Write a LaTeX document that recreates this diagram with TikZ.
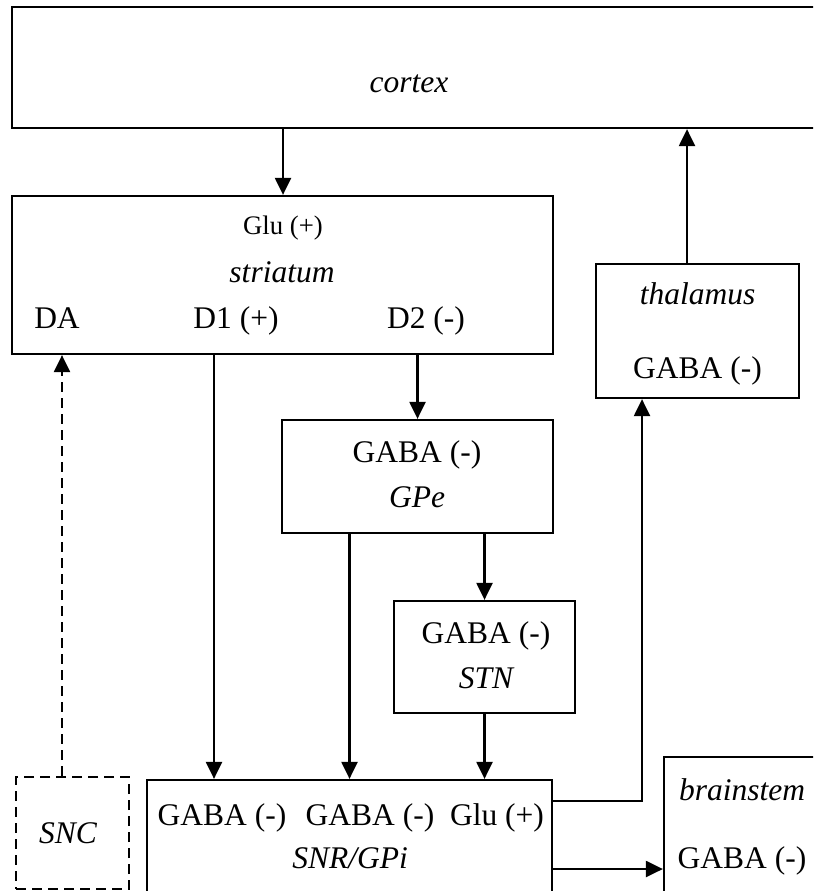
\documentclass[tikz,border=0pt]{standalone}
\usepackage{fontspec}
\setmainfont{Liberation Serif}
\usetikzlibrary{arrows.meta}

\begin{document}
\begin{tikzpicture}[
    x=0.4pt, y=-0.4pt,
    line width=0.9pt,
    >={Triangle[length=6.8pt,width=6.4pt]},
    box/.style={rectangle, draw, line width=0.9pt, inner sep=0pt},
    dashbox/.style={box, dash pattern=on 4pt off 2.4pt},
    txt/.style={anchor=base, inner sep=0pt, font=\fontsize{12.6}{15}\selectfont},
    smalltxt/.style={txt, font=\fontsize{10.7}{13}\selectfont},
    itxt/.style={txt, font=\fontsize{12.6}{15}\selectfont\itshape}
]
    \clip (0,0) rectangle (813,891);

    % Regionen
    \node[box, minimum width=327.2pt, minimum height=48.4pt] (cortex) at (421,67.5) {};
    \node[box, minimum width=216.4pt, minimum height=63.2pt] (striatum) at (282.5,275) {};
    \node[box, minimum width=81.2pt, minimum height=53.6pt] (thalamus) at (697.5,331) {};
    \node[box, minimum width=108.4pt, minimum height=45.2pt] (gpe) at (417.5,476.5) {};
    \node[box, minimum width=72.4pt, minimum height=44.8pt] (stn) at (484.5,657) {};
    \node[box, minimum width=162pt, minimum height=52pt] (snr) at (349.5,845) {};
    \node[box, minimum width=66.4pt, minimum height=61.2pt] (brainstem) at (747,833.5) {};
    \node[dashbox, minimum width=45.2pt, minimum height=44.8pt] (snc) at (72.5,833) {};

    % Beschriftungen
    \node[itxt] (cortexname) at (409,93) {cortex};
    \node[smalltxt] (glu) at (283,235) {Glu (+)};
    \node[itxt] (striatumname) at (282,283) {striatum};
    \node[txt] (da) at (57,328) {DA};
    \node[txt] (d1) at (236,328) {D1 (+)};
    \node[txt] (d2) at (426,328) {D2 (-)};
    \node[itxt] (thalamusname) at (697.5,305) {thalamus};
    \node[txt] (thalamusgaba) at (697.5,379) {GABA (-)};
    \node[txt] (gpegaba) at (417,462) {GABA (-)};
    \node[itxt] (gpename) at (417,507) {GPe};
    \node[txt] (stngaba) at (486,643) {GABA (-)};
    \node[itxt] (stnname) at (486,688) {STN};
    \node[txt] (gabaA) at (222,825) {GABA (-)};
    \node[txt] (gabaB) at (370,825) {GABA (-)};
    \node[txt] (snrglu) at (497,825) {Glu (+)};
    \node[itxt] (snrname) at (350,868) {SNR/GPi};
    \node[itxt] (brainstemname) at (742,800) {brainstem};
    \node[txt] (brainstemgaba) at (742,868) {GABA (-)};
    \node[itxt] (sncname) at (68,843) {SNC};

    % Verbindungen
    \coordinate (bsin) at ([yshift=-14.2pt]brainstem.west);
    \coordinate (sncout) at ([xshift=-4.2pt]snc.north);
    \coordinate (thalout) at ([xshift=-4.2pt]thalamus.north);
    \coordinate (thalin) at ([xshift=-22.2pt]thalamus.south);
    \coordinate (d1out) at ([xshift=-8.8pt]d1.south);
    \draw[->] (cortex.south -| glu) -- (striatum.north -| glu);
    \draw[->] (thalout) -- (cortex.south -| thalout);
    \draw[->] (striatum.south -| d1out) -- (snr.north -| d1out);
    \draw[->] (striatum.south -| gpe.north) -- (gpe.north);
    \draw[->] (gpe.south -| snr.north) -- (snr.north);
    \draw[->] (gpe.south -| stn.north) -- (stn.north);
    \draw[->] (stn.south) -- (snr.north -| stn.south);
    \draw[->] ([yshift=-8.8pt]snr.north east) -| (thalin);
    \draw[->] (snr.east |- bsin) -- (bsin);
    \draw[->, dash pattern=on 4pt off 2.4pt] (sncout) -- (striatum.south -| sncout);

\end{tikzpicture}
\end{document}
